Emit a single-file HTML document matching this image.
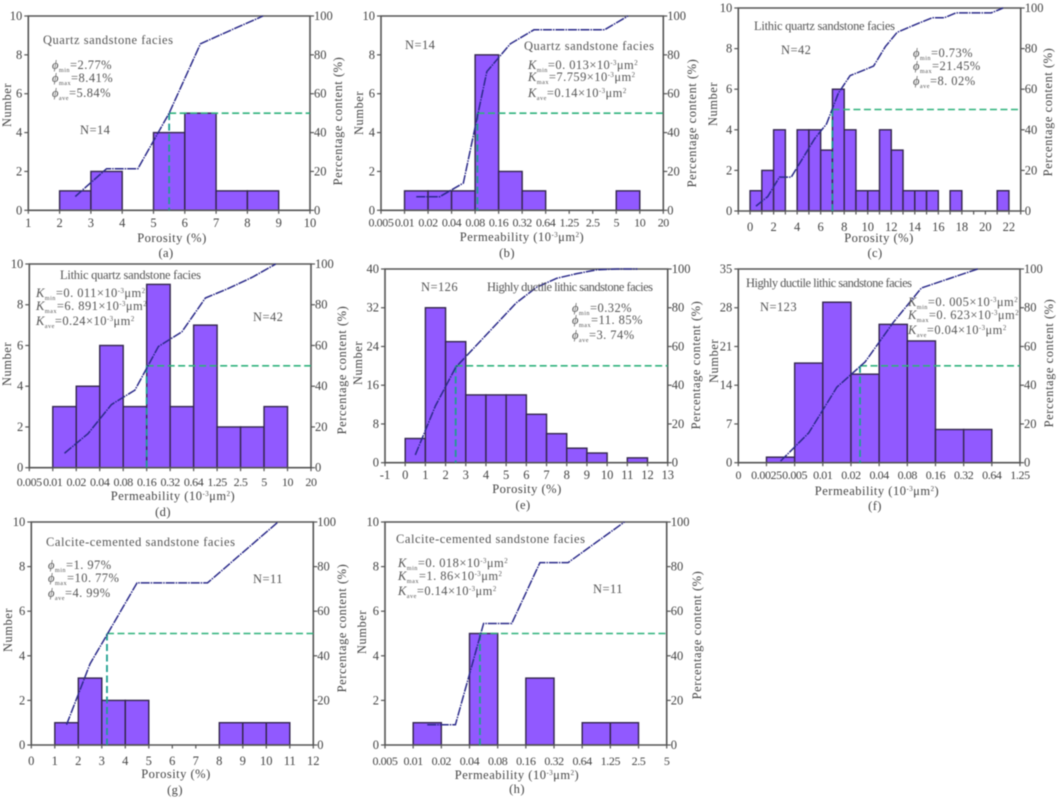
<!DOCTYPE html>
<html lang="en">
<head>
<meta charset="utf-8">
<title>Porosity and permeability histograms by sandstone facies</title>
<style>
html,body{margin:0;padding:0;background:#fff;width:1059px;height:798px;overflow:hidden}
#figure{display:block;filter:blur(0.4px)}
text{font-family:"Liberation Serif","DejaVu Serif",serif;fill:#444}
</style>
</head>
<body>
<svg id="figure" xmlns="http://www.w3.org/2000/svg" width="1059" height="798" viewBox="0 0 1059 798"></svg>
<script>
// ---- chart data (tick labels, bin counts, cumulative %, median in tick-index units) ----
const poreTicksA = ['1','2','3','4','5','6','7','8','9','10'];
const countsA = [0,1,2,0,4,5,1,1,0];
const cumA = [null,7.1,21.4,21.4,50,85.7,92.9,100,null];
const medianA = 4.5;

const permTicksB = ['0.005','0.01','0.02','0.04','0.08','0.16','0.32','0.64','1.25','2.5','5','10','20'];
const countsB = [0,1,1,1,8,2,1,0,0,0,1,0];
const cumB = [null,7,7,14,71.4,85.7,92.9,92.9,92.9,92.9,100,null];
const medianB = 4.1;

const poreTicksC = ['','0','','2','','4','','6','','8','','10','','12','','14','','16','','18','','20','','22',''];
const countsC = [0,1,2,4,0,4,4,3,6,4,1,1,4,3,1,1,1,0,1,0,0,0,1,0];
const cumC = [null,2.4,7.1,16.7,16.7,26.2,35.7,42.9,58,66.7,69,71.4,81,88,90.5,92.9,95.2,95.2,97.6,97.6,97.6,97.6,100,null];
const medianC = 8;

const permTicksD = ['0.005','0.01','0.02','0.04','0.08','0.16','0.32','0.64','1.25','2.5','5','10','20'];
const countsD = [0,3,4,6,3,9,3,7,2,2,3,0];
const cumD = [null,7.1,16.7,31,38.1,59.5,66.7,83.3,88.1,93.5,100,null];
const medianD = 5;

const poreTicksE = ['-1','0','1','2','3','4','5','6','7','8','9','10','11','12','13'];
const countsE = [0,5,32,25,14,14,14,10,6,3,2,0,1,0];
const cumE = [null,4,29.4,49.2,60.3,71.4,82.5,90.5,95.2,97.6,99.6,100,100,null];
const medianE = 3.5;

const permTicksF = ['0','0.0025','0.005','0.01','0.02','0.04','0.08','0.16','0.32','0.64','1.25'];
const countsF = [0,1,18,29,16,25,22,6,6,0];
const cumF = [null,0.8,15.4,39,52,72.4,90.2,95.1,100,null];
const medianF = 4.32;

const poreTicksG = ['0','1','2','3','4','5','6','7','8','9','10','11','12'];
const countsG = [0,1,3,2,2,0,0,0,1,1,1,0];
const cumG = [null,9.1,36.4,54.5,72.7,72.7,72.7,72.7,81.8,90.9,100,null];
const medianG = 3.22;

const permTicksH = ['0.005','0.01','0.02','0.04','0.08','0.16','0.32','0.64','1.25','2.5','5'];
const countsH = [0,1,0,5,0,3,0,1,1,0];
const cumH = [null,9.1,9.1,54.5,54.5,81.8,81.8,90.9,100,null];
const medianH = 3.37;

const leftTicks10 = [0,2,4,6,8,10];
const leftTicks40 = [0,8,16,24,32,40];
const leftTicks35 = [0,7,14,21,28,35];
const rightTicks = [0,20,40,60,80,100];

const permTitle = 'Permeability (10^-3^μm^2^)';
const poreTitle = 'Porosity (%)';

// ---- layout of each panel ----
const panels = [
 {id:'a',l:28.3,r:310,t:16,b:210.3,ticks:poreTicksA,counts:countsA,cum:cumA,median:medianA,left:leftTicks10,tickY:223,tfs:12.5,
  title:poreTitle,tx:172,ty:238,cx:166,cy:253,nx:7,ny:105,px:338,py:121,
  notes:[['Quartz sandstone facies',43,40,130],['*ϕ*_min_=2.77%',52,65],['*ϕ*_max_=8.41%',52,78],['*ϕ*_ave_=5.84%',52,93],['N=14',80,130]]},
 {id:'b',l:381,r:663.3,t:16,b:210.3,ticks:permTicksB,counts:countsB,cum:cumB,median:medianB,left:leftTicks10,tickY:222.5,tfs:12,
  title:permTitle,tx:522,ty:237,cx:507,cy:253,nx:359,ny:113,px:692,py:123,
  notes:[['N=14',405,45],['Quartz sandstone facies',524,46,130],['*K*_min_=0. 013×10^-3^μm^2^',528,65],['*K*_max_=7.759×10^-3^μm^2^',528,77],['*K*_ave_=0.14×10^-3^μm^2^',528,93]]},
 {id:'c',l:738.3,r:1020.7,t:8,b:211,ticks:poreTicksC,counts:countsC,cum:cumC,median:medianC,left:leftTicks10,tickY:227,tfs:12.5,
  title:poreTitle,tx:879,ty:238,cx:875,cy:253,nx:713,ny:104,px:1048,py:112,
  notes:[['Lithic quartz sandstone facies',754,26,141],['N=42',781,50],['*ϕ*_min_=0.73%',913,53],['*ϕ*_max_=21.45%',913,66],['*ϕ*_ave_=8. 02%',913,81]]},
 {id:'d',l:29.3,r:311,t:264,b:467.7,ticks:permTicksD,counts:countsD,cum:cumD,median:medianD,left:leftTicks10,tickY:482,tfs:12,
  title:permTitle,tx:173,ty:496,cx:163,cy:512,nx:7,ny:364,px:342,py:370,
  notes:[['Lithic quartz sandstone facies',60,275,141],['*K*_min_=0. 011×10^-3^μm^2^',36,293],['*K*_max_=6. 891×10^-3^μm^2^',36,306],['*K*_ave_=0.24×10^-3^μm^2^',36,321],['N=42',253,317]]},
 {id:'e',l:385,r:667.7,t:269,b:462.7,ticks:poreTicksE,counts:countsE,cum:cumE,median:medianE,left:leftTicks40,tickY:475,tfs:12.5,
  title:poreTitle,tx:527,ty:489,cx:523,cy:505,nx:358,ny:363,px:696,py:365,
  notes:[['N=126',421,287],['Highly ductile lithic sandstone facies',487,287,166],['*ϕ*_min_=0.32%',572,308],['*ϕ*_max_=11. 85%',572,320],['*ϕ*_ave_=3. 74%',572,335]]},
 {id:'f',l:738.3,r:1020,t:269,b:462.7,ticks:permTicksF,counts:countsF,cum:cumF,median:medianF,left:leftTicks35,tickY:475,tfs:12,
  title:permTitle,tx:877,ty:491,cx:875,cy:506,nx:714,ny:361,px:1049,py:363,
  notes:[['Highly ductile lithic sandstone facies',746,283,166],['N=123',760,307],['*K*_min_=0. 005×10^-3^μm^2^',908,302],['*K*_max_=0. 623×10^-3^μm^2^',908,315],['*K*_ave_=0.04×10^-3^μm^2^',908,330]]},
 {id:'g',l:31.3,r:313.3,t:522,b:745,ticks:poreTicksG,counts:countsG,cum:cumG,median:medianG,left:leftTicks10,tickY:761,tfs:12.5,
  title:poreTitle,tx:176,ty:774,cx:175,cy:790,nx:8,ny:630,px:342,py:628,
  notes:[['Calcite-cemented sandstone facies',46,542,189],['*ϕ*_min_=1. 97%',48,565],['*ϕ*_max_=10. 77%',48,578],['*ϕ*_ave_=4. 99%',48,593],['N=11',253,579]]},
 {id:'h',l:385,r:666.7,t:522,b:745,ticks:permTicksH,counts:countsH,cum:cumH,median:medianH,left:leftTicks10,tickY:761,tfs:12,
  title:permTitle,tx:517,ty:775,cx:517,cy:789,nx:362,ny:632,px:697,py:635,
  notes:[['Calcite-cemented sandstone facies',396,539,189],['*K*_min_=0. 018×10^-3^μm^2^',398,563],['*K*_max_=1. 86×10^-3^μm^2^',398,576],['*K*_ave_=0.14×10^-3^μm^2^',398,591],['N=11',593,589]]}
];

const NS = 'http://www.w3.org/2000/svg';
const svg = document.getElementById('figure');
function mk(tag, attrs, parent){
  const e = document.createElementNS(NS, tag);
  for (const k in attrs) e.setAttribute(k, attrs[k]);
  parent.appendChild(e);
  return e;
}
// mini-markup: *italic*, _subscript_, ^superscript^
function rich(el, str, fs){
  const tokens = str.match(/\*[^*]+\*|_[^_]+_|\^[^^]+\^|[^*_^]+/g);
  let shift = 0;
  tokens.forEach(function(tok){
    const s = document.createElementNS(NS, 'tspan');
    const c = tok[0];
    let want = 0, txt = tok;
    if (c === '*'){ txt = tok.slice(1,-1); s.setAttribute('font-style','italic'); }
    else if (c === '_'){ txt = tok.slice(1,-1); want = 3; s.setAttribute('font-size', fs*0.5); }
    else if (c === '^'){ txt = tok.slice(1,-1); want = -4; s.setAttribute('font-size', fs*0.55); }
    if (want !== shift){ s.setAttribute('dy', want - shift); shift = want; }
    s.textContent = txt;
    el.appendChild(s);
  });
}

panels.forEach(function(p){
  const g = mk('g', {}, svg);
  
  

  const nInt = p.ticks.length - 1;
  const xAt = function(i){ return p.l + (p.r - p.l) * i / nInt; };
  const yMax = p.left[p.left.length - 1];
  const yCount = function(v){ return p.b - (p.b - p.t) * v / yMax; };
  const yPct = function(v){ return p.b - (p.b - p.t) * v / 100; };

  // bars
  p.counts.forEach(function(v, i){
    if (!v) return;
    const bar = mk('rect', {x:xAt(i), y:yCount(v), width:xAt(i+1)-xAt(i), height:p.b-yCount(v), fill:'#9159ff', stroke:'#33264d', 'stroke-width':1.4}, g);
    
    
  });

  // frame
  const frame = mk('path', {d:'M'+p.l+' '+p.b+'V'+p.t+'H'+p.r+'V'+p.b+'Z', fill:'none', stroke:'#555', 'stroke-width':1.6}, g);
  
  

  // ticks & labels: x axis
  p.ticks.forEach(function(lab, i){
    const tick = mk('line', {x1:xAt(i), x2:xAt(i), y1:p.b, y2:p.b+3.5, stroke:'#555', 'stroke-width':1.2}, g);
    
    
    if (lab !== ''){
      const t = mk('text', {x:xAt(i), y:p.tickY+4, 'text-anchor':'middle', 'font-size':p.tfs, 'letter-spacing':p.tfs<12.5?-0.4:0}, g);
      t.textContent = lab;
      
      
    }
  });

  // left axis
  p.left.forEach(function(v){
    const tick = mk('line', {x1:p.l-4, x2:p.l, y1:yCount(v), y2:yCount(v), stroke:'#555', 'stroke-width':1.2}, g);
    
    
    const t = mk('text', {x:p.l-6, y:yCount(v)+4, 'text-anchor':'end', 'font-size':12.5}, g);
    t.textContent = v;
    
    
  });

  // right axis
  rightTicks.forEach(function(v){
    const tick = mk('line', {x1:p.r, x2:p.r+4, y1:yPct(v), y2:yPct(v), stroke:'#555', 'stroke-width':1.2}, g);
    
    
    const t = mk('text', {x:p.r+4, y:yPct(v)+4, 'text-anchor':'start', 'font-size':12.5}, g);
    t.textContent = v;
    
    
  });

  // median guide
  const medX = xAt(p.median), medY = yPct(50);
  const guideH = mk('line', {x1:medX, x2:p.r, y1:medY, y2:medY, stroke:'#2fb27c', 'stroke-width':1.6, 'stroke-dasharray':'7 3.5'}, g);
  
  
  const guideV = mk('line', {x1:medX, x2:medX, y1:medY, y2:p.b, stroke:'#1f9f90', 'stroke-width':1.8, 'stroke-dasharray':'7 3.5'}, g);
  
  

  // cumulative line
  const pts = [];
  p.cum.forEach(function(v, i){ if (v !== null) pts.push((xAt(i)+xAt(i+1))/2 + ',' + yPct(v)); });
  const line = mk('polyline', {points:pts.join(' '), fill:'none', stroke:'#2b2b8a', 'stroke-width':1.5, 'stroke-dasharray':'9 1 1.5 1'}, g);
  
  

  // axis titles
  const xt = mk('text', {x:p.tx, y:p.ty+4, 'text-anchor':'middle', 'font-size':12.5, 'letter-spacing':0.5}, g);
  rich(xt, p.title, 12.5);
  
  

  const cap = mk('text', {x:p.cx, y:p.cy+4, 'text-anchor':'middle', 'font-size':12.5, 'letter-spacing':0.4}, g);
  cap.textContent = '(' + p.id + ')';
  
  

  const nt = mk('text', {x:0, y:0, transform:'translate('+(p.nx+4)+' '+p.ny+') rotate(-90)', 'text-anchor':'middle', 'font-size':12.5, 'letter-spacing':0.5}, g);
  nt.textContent = 'Number';
  
  

  const pt = mk('text', {x:0, y:0, transform:'translate('+(p.px+4)+' '+p.py+') rotate(-90)', 'text-anchor':'middle', 'font-size':12.5, 'letter-spacing':0.55}, g);
  pt.textContent = 'Percentage content (%)';
  
  

  // annotations
  p.notes.forEach(function(n){
    const a = {x:n[1], y:n[2]+4, 'font-size':12.5};
    if (n[3]) { a.textLength = n[3]; a.lengthAdjust = 'spacing'; }
    else { a['letter-spacing'] = 0.45; }
    const note = mk('text', a, g);
    note.style.fill = '#555';
    rich(note, n[0], 12.5);
    
    
  });
});
</script>
</body>
</html>
